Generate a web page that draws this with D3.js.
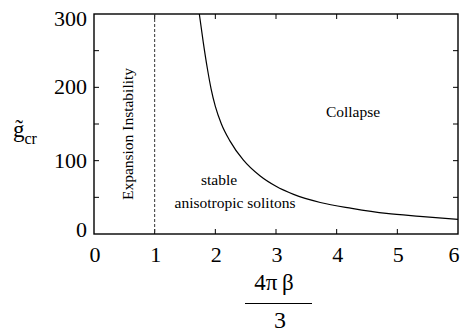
<!DOCTYPE html>
<html>
<head>
<meta charset="utf-8">
<script src="https://cdn.jsdelivr.net/npm/d3@7"></script>
<style>
  body { margin: 0; background: #fff; }
  #chart text { font-family: 'Liberation Serif', 'Times New Roman', Times, 'DejaVu Serif', serif; }
</style>
</head>
<body>
<div id="chart"></div>
<script>
// critical coupling curve
const betaVals = [1.736, 1.80, 1.87, 1.93, 2.00, 2.10, 2.24, 2.46, 2.74, 3.00, 3.29, 3.73, 4.25, 4.82, 5.37, 6.00];
const gcrVals = [300, 262, 225, 198, 174, 150, 127, 101, 79, 65, 54, 43, 35, 28, 24, 20];
const xTicks = [0, 1, 2, 3, 4, 5, 6];
const yTicks = [0, 100, 200, 300];
const yMinor = [50, 150, 250];
const instabilityX = 1;

const width = 463;
const height = 333;
const margin = { top: 14, right: 5, bottom: 99, left: 94 };
const w = width - margin.left - margin.right;
const h = height - margin.top - margin.bottom;

const svg = d3.select('#chart').append('svg')
  .attr('width', width)
  .attr('height', height);

const g = svg.append('g')
  .attr('transform', `translate(${margin.left},${margin.top})`);

const x = d3.scaleLinear().domain([0, 6]).range([0, w]);
const y = d3.scaleLinear().domain([0, 300]).range([h, 0]);

const tl = 5;

// ticks on all four sides, pointing inward
g.selectAll('.xt-bottom').data(xTicks.slice(1, -1)).enter().append('line')
  .attr('x1', d => x(d)).attr('x2', d => x(d))
  .attr('y1', h).attr('y2', h - tl)
  .attr('stroke', '#000').attr('stroke-width', 1);
g.selectAll('.xt-top').data(xTicks.slice(1, -1)).enter().append('line')
  .attr('x1', d => x(d)).attr('x2', d => x(d))
  .attr('y1', 0).attr('y2', tl)
  .attr('stroke', '#000').attr('stroke-width', 1);

const allY = yTicks.slice(1, -1).concat(yMinor);
g.selectAll('.yt-left').data(allY).enter().append('line')
  .attr('x1', 0).attr('x2', tl)
  .attr('y1', d => y(d)).attr('y2', d => y(d))
  .attr('stroke', '#000').attr('stroke-width', 1);
g.selectAll('.yt-right').data(allY).enter().append('line')
  .attr('x1', w).attr('x2', w - tl)
  .attr('y1', d => y(d)).attr('y2', d => y(d))
  .attr('stroke', '#000').attr('stroke-width', 1);

// frame
g.append('rect')
  .attr('width', w).attr('height', h)
  .attr('fill', 'none')
  .attr('stroke', '#000').attr('stroke-width', 1.4);

// tick labels
g.selectAll('.xl').data(xTicks).enter().append('text')
  .attr('x', d => x(d) + (d === 6 ? -4 : 1))
  .attr('y', h + 28)
  .attr('text-anchor', 'middle')
  .attr('font-size', 22)
  .text(d => d);

g.selectAll('.yl').data(yTicks).enter().append('text')
  .attr('x', -7)
  .attr('y', d => y(d) + (d === 300 ? 12 : d === 0 ? 3 : 7))
  .attr('text-anchor', 'end')
  .attr('font-size', 22)
  .text(d => d);

// expansion instability boundary
g.append('line')
  .attr('x1', x(instabilityX)).attr('x2', x(instabilityX))
  .attr('y1', 0).attr('y2', h)
  .attr('stroke', '#333').attr('stroke-width', 1)
  .attr('stroke-dasharray', '3,2');

// critical curve
const line = d3.line()
  .x(d => x(d[0]))
  .y(d => y(d[1]))
  .curve(d3.curveMonotoneX);

g.append('path')
  .datum(betaVals.map((b, i) => [b, gcrVals[i]]))
  .attr('d', line)
  .attr('fill', 'none')
  .attr('stroke', '#000')
  .attr('stroke-width', 1.2);

// region labels
g.append('text')
  .attr('x', 353 - margin.left).attr('y', 117 - margin.top)
  .attr('text-anchor', 'middle').attr('font-size', 15.5)
  .text('Collapse');
g.append('text')
  .attr('x', 219 - margin.left).attr('y', 185 - margin.top)
  .attr('text-anchor', 'middle').attr('font-size', 15.5)
  .text('stable');
g.append('text')
  .attr('x', 235 - margin.left).attr('y', 208 - margin.top)
  .attr('text-anchor', 'middle').attr('font-size', 15.5)
  .text('anisotropic solitons');
g.append('text')
  .attr('transform', `translate(${133 - margin.left},${134 - margin.top}) rotate(-90)`)
  .attr('text-anchor', 'middle').attr('font-size', 15.5)
  .text('Expansion Instability');

// y title: g with tilde, subscript cr
const yt = svg.append('text').attr('x', 13).attr('y', 137).attr('font-size', 23);
yt.append('tspan').text('g\u0303');
yt.append('tspan').attr('font-size', 16).attr('dy', 7).text('cr');

// x title: fraction 4πβ / 3
const xc = 278;
svg.append('text')
  .attr('x', xc - 4).attr('y', 290)
  .attr('text-anchor', 'middle').attr('font-size', 23)
  .text('4\u03C0\u2009\u03B2');
svg.append('line')
  .attr('x1', 245).attr('x2', 312)
  .attr('y1', 303.5).attr('y2', 303.5)
  .attr('stroke', '#000').attr('stroke-width', 1.2);
svg.append('text')
  .attr('x', xc + 2).attr('y', 328)
  .attr('text-anchor', 'middle').attr('font-size', 24)
  .text('3');
</script>
</body>
</html>
